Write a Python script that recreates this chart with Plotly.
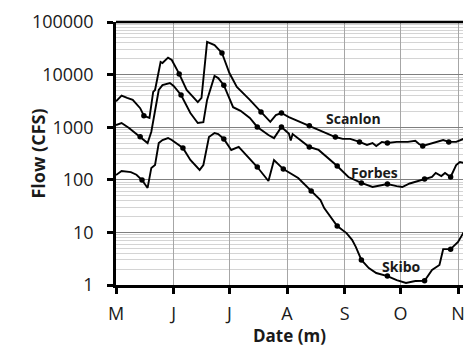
import plotly.graph_objects as go

YEAR = "2012"

# ---- data (month-day, flow in CFS) ----
scanlon_dates = ["05-01", "05-04", "05-07", "05-10", "05-14", "05-16", "05-19", "05-21", "05-22",
                 "05-25", "05-26", "05-29", "05-31", "06-04", "06-08", "06-14", "06-16", "06-19",
                 "06-23", "06-27", "07-01", "07-05", "07-12", "07-18", "07-23", "07-26", "07-29",
                 "08-02", "08-13", "08-19", "08-27", "08-31", "09-04", "09-09", "09-13", "09-16",
                 "09-18", "09-21", "09-24", "09-29", "10-05", "10-09", "10-11", "10-13", "10-17",
                 "10-21", "10-24", "10-27", "10-31", "11-04"]
scanlon_flow = [3100, 4000, 3600, 3300, 2300, 1650, 1500, 4700, 5100,
                17400, 16600, 21000, 19000, 10300, 5100, 3000, 3600, 41700,
                36500, 25800, 10700, 5800, 3300, 1950, 1260, 1700, 1860,
                1560, 1060, 850, 650, 600, 600, 525, 460, 500,
                440, 525, 500, 525, 525, 550, 480, 440, 480,
                525, 570, 525, 525, 600]
scanlon_dots = ["05-16", "06-04", "06-27", "07-18", "07-29", "08-13", "08-27", "09-09",
                "09-24", "10-13", "10-27"]

forbes_dates = ["05-01", "05-04", "05-08", "05-14", "05-18", "05-20", "05-22", "05-24", "05-26",
                "05-30", "06-01", "06-05", "06-10", "06-14", "06-17", "06-19", "06-23", "06-25",
                "06-28", "07-03", "07-07", "07-12", "07-16", "07-22", "07-25", "07-27", "07-29",
                "08-01", "08-02", "08-03", "08-04", "08-13", "08-18", "08-28", "09-03", "09-10",
                "09-16", "09-20", "09-24", "09-29", "10-02", "10-06", "10-14", "10-18", "10-20",
                "10-23", "10-25", "10-28", "10-31", "11-02", "11-04"]
forbes_flow = [1100, 1200, 965, 660, 500, 820, 2100, 5100, 6300,
               6900, 6100, 4100, 1860, 1200, 1250, 3300, 9400, 8600,
               6300, 2400, 2050, 1500, 1010, 710, 620, 780, 1010,
               810, 760, 560, 740, 420, 370, 183, 113, 87,
               73, 78, 83, 76, 73, 85, 104, 113, 135,
               118, 135, 113, 190, 218, 210]
forbes_dots = ["05-14", "06-05", "06-28", "07-16", "07-29", "08-13", "08-28", "09-10",
               "09-24", "10-14", "10-28"]

skibo_dates = ["05-01", "05-04", "05-09", "05-12", "05-15", "05-18", "05-20", "05-22", "05-24",
               "05-26", "05-29", "05-31", "06-06", "06-10", "06-15", "06-17", "06-20", "06-23",
               "06-25", "06-28", "07-02", "07-06", "07-16", "07-22", "07-25", "07-28", "07-30",
               "08-07", "08-14", "08-19", "08-21", "08-28", "09-02", "09-05", "09-07", "09-10",
               "09-14", "09-18", "09-24", "09-29", "10-04", "10-09", "10-14", "10-18", "10-22",
               "10-24", "10-28", "11-01", "11-04"]
skibo_flow = [123, 147, 140, 125, 99, 70, 168, 191, 500,
              571, 623, 571, 402, 238, 154, 191, 651, 777,
              743, 597, 369, 421, 175, 95, 238, 183, 160,
              108, 61, 41, 29, 13.2, 9.7, 7.2, 5.3, 3.0,
              2.1, 1.69, 1.48, 1.24, 1.09, 1.19, 1.2, 1.93, 2.4,
              4.8, 4.8, 6.6, 10]
skibo_dots = ["05-15", "06-06", "06-28", "07-16", "07-30", "08-14", "08-28", "09-10",
              "09-24", "10-14", "10-28"]

month_ticks = ["05-01", "06-01", "07-01", "08-01", "09-01", "10-01", "11-01"]
month_labels = ["M", "J", "J", "A", "S", "O", "N"]
flow_ticks = [1, 10, 100, 1000, 10000, 100000]
flow_labels = ["1", "10", "100", "1000", "10000", "100000"]

series = [
    ("Scanlon", scanlon_dates, scanlon_flow, scanlon_dots, "09-05 12:00", 3.156),
    ("Forbes", forbes_dates, forbes_flow, forbes_dots, "09-17 06:00", 2.148),
    ("Skibo", skibo_dates, skibo_flow, skibo_dots, "10-01 18:00", 0.36),
]

def d(md):
    return f"{YEAR}-{md}"

FONT = "Open Sans"
fig = go.Figure()
annotations = []
for name, dates, flow, dots, lx, ly in series:
    fig.add_trace(go.Scatter(x=[d(v) for v in dates], y=flow, mode="lines", name=name,
                             line=dict(color="black", width=1.9), showlegend=False))
    lookup = dict(zip(dates, flow))
    fig.add_trace(go.Scatter(x=[d(v) for v in dots], y=[lookup[v] for v in dots], mode="markers",
                             marker=dict(color="black", size=5.5), showlegend=False))
    annotations.append(dict(x=d(lx), y=ly, xref="x", yref="y", text=f"<b>{name}</b>",
                            showarrow=False, font=dict(family=FONT, size=14, color="#1a1a1a")))

annotations.append(dict(x=-0.268, y=0.50, xref="paper", yref="paper", text="<b>Flow (CFS)</b>",
                        textangle=-90, showarrow=False,
                        font=dict(family=FONT, size=18, color="#1a1a1a")))
annotations.append(dict(x=0.5, y=-0.192, xref="paper", yref="paper", text="<b>Date (m)</b>",
                        showarrow=False, yanchor="middle", borderpad=0,
                        font=dict(family=FONT, size=17, color="#1a1a1a")))

minor_vals = [m * 10 ** e for e in range(0, 5) for m in range(2, 10)]

fig.update_layout(
    template="none",
    width=465, height=347,
    margin=dict(l=116, r=2, t=22, b=62, autoexpand=False),
    paper_bgcolor="white", plot_bgcolor="white",
    annotations=annotations,
    shapes=[dict(type="line", xref="paper", yref="paper", x0=0, x1=1, y0=1, y1=1,
                 line=dict(color="black", width=2.5))],
    xaxis=dict(type="date", range=[d("05-01"), d("11-03 16:00")], automargin=False,
               tickmode="array", tickvals=[d(v) for v in month_ticks], ticktext=month_labels,
               ticks="outside", ticklen=6, tickwidth=2.5, tickcolor="black",
               showline=True, linewidth=2.5, linecolor="black",
               showgrid=True, gridcolor="#a6a6a6", gridwidth=1, zeroline=False,
               ticklabelstandoff=5,
               tickfont=dict(family=FONT, size=18, color="#1a1a1a")),
    yaxis=dict(type="log", range=[0, 5], automargin=False,
               tickmode="array", tickvals=flow_ticks, ticktext=flow_labels,
               ticks="outside", ticklen=6, tickwidth=2.5, tickcolor="black",
               showline=True, linewidth=2.5, linecolor="black",
               showgrid=True, gridcolor="#7f7f7f", gridwidth=1, zeroline=False,
               minor=dict(tickmode="array", tickvals=minor_vals, showgrid=True,
                          gridcolor="#d4d4d4", gridwidth=1, ticks=""),
               ticklabelstandoff=10,
               tickfont=dict(family=FONT, size=18, color="#1a1a1a")),
)

fig.write_html("out.html", config={"displayModeBar": False},
               post_script="document.body.style.margin='0';")
